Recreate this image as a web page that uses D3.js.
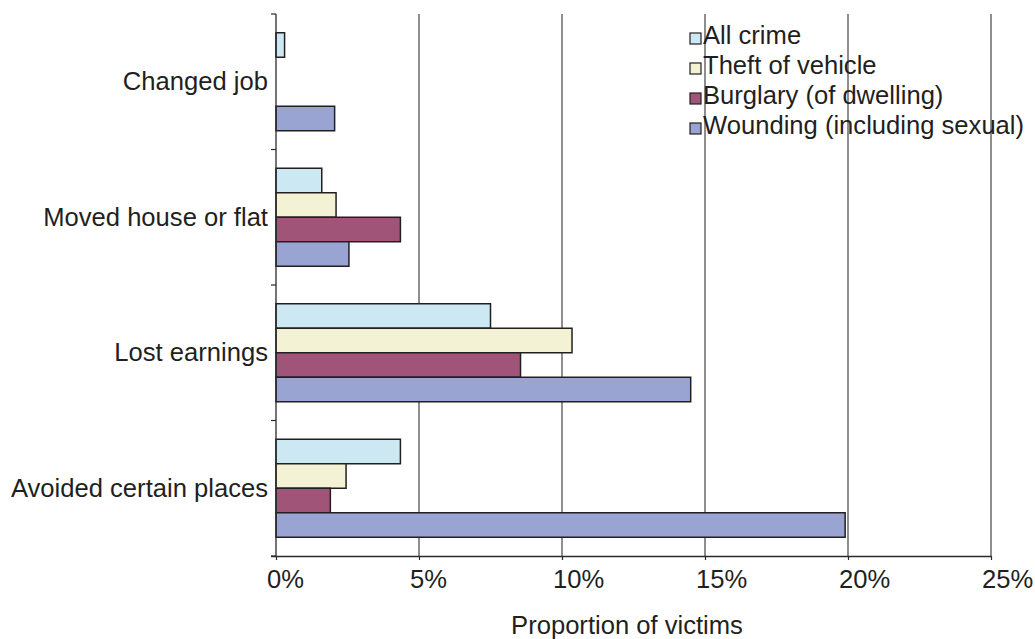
<!DOCTYPE html>
<html>
<head>
<meta charset="utf-8">
<script src="https://cdn.jsdelivr.net/npm/d3@7"></script>
<style>
  html, body { margin: 0; padding: 0; background: #fff; }
  svg { display: block; }
  text { font-family: "Liberation Sans", Arial, Helvetica, sans-serif; fill: #231f20; }
</style>
</head>
<body>
<script>
// ---- Data ----
const categories = ["Changed job", "Moved house or flat", "Lost earnings", "Avoided certain places"];
const seriesNames = ["All crime", "Theft of vehicle", "Burglary (of dwelling)", "Wounding (including sexual)"];
const allCrime = [0.3, 1.6, 7.5, 4.35];
const theftOfVehicle = [0, 2.1, 10.35, 2.45];
const burglary = [0, 4.35, 8.55, 1.9];
const wounding = [2.05, 2.55, 14.5, 19.9];
const xTicks = [0, 5, 10, 15, 20, 25];
const xTickLabels = ["0%", "5%", "10%", "15%", "20%", "25%"];
const colors = ["#cbe8f3", "#f3f2d4", "#a05578", "#99a4d2"];

const seriesValues = [allCrime, theftOfVehicle, burglary, wounding];

const W = 1035, H = 639;
const margin = { left: 276, right: 44, top: 14, bottom: 83 };
const FS = 25.6;

const svg = d3.select("body").append("svg").attr("width", W).attr("height", H);

const x = d3.scaleLinear().domain([0, 25]).range([margin.left, W - margin.right]);
const y0 = d3.scaleBand().domain(categories).range([margin.top, H - margin.bottom]).padding(0);
const y1 = d3.scaleBand().domain(seriesNames).range([0, y0.bandwidth()]).paddingInner(0).paddingOuter(0.765);

const plotTop = margin.top, plotBottom = H - margin.bottom;
const ink = "#2a2a2a";

// gridlines
svg.append("g").selectAll("line").data(xTicks.filter(d => d > 0)).join("line")
  .attr("x1", d => x(d)).attr("x2", d => x(d))
  .attr("y1", plotTop).attr("y2", plotBottom)
  .attr("stroke", "#444").attr("stroke-width", 1.2);

// bars
const rows = [];
categories.forEach((c, i) => {
  seriesNames.forEach((s, j) => {
    rows.push({ cat: c, ser: s, v: seriesValues[j][i], color: colors[j] });
  });
});
svg.append("g").selectAll("rect").data(rows.filter(d => d.v > 0)).join("rect")
  .attr("x", x(0))
  .attr("y", d => y0(d.cat) + y1(d.ser))
  .attr("width", d => x(d.v) - x(0))
  .attr("height", y1.bandwidth())
  .attr("fill", d => d.color)
  .attr("stroke", "#231f20")
  .attr("stroke-width", 1.5);

// x axis
const xAxis = d3.axisBottom(x).tickValues(xTicks).tickSize(4).tickFormat((d, i) => xTickLabels[i]);
const gx = svg.append("g").attr("transform", `translate(0,${plotBottom})`).call(xAxis);
gx.select(".domain").attr("stroke", ink).attr("stroke-width", 1.3).attr("d", `M${x(0) - 5},0.5H${x(25)}`);
gx.selectAll(".tick line").attr("stroke", ink).attr("stroke-width", 1.2);
gx.selectAll(".tick text")
  .attr("font-size", FS).attr("fill", "#231f20")
  .attr("text-anchor", "start").attr("dx", -9.5).attr("y", 0).attr("dy", 32);

// y axis (ticks at band boundaries)
svg.append("line").attr("x1", x(0)).attr("x2", x(0)).attr("y1", plotTop).attr("y2", plotBottom)
  .attr("stroke", ink).attr("stroke-width", 1.3);
const boundaries = categories.map(c => y0(c)).concat([plotBottom]);
svg.append("g").selectAll("line").data(boundaries).join("line")
  .attr("x1", x(0) - 5).attr("x2", x(0)).attr("y1", d => d).attr("y2", d => d)
  .attr("stroke", ink).attr("stroke-width", 1.2);

// category labels
svg.append("g").selectAll("text").data(categories).join("text")
  .attr("x", x(0) - 8)
  .attr("y", d => y0(d) + y0.bandwidth() / 2 + 8.5)
  .attr("text-anchor", "end")
  .attr("font-size", FS)
  .text(d => d);

// axis title
svg.append("text")
  .attr("x", 627).attr("y", 634)
  .attr("text-anchor", "middle").attr("font-size", FS)
  .text("Proportion of victims");

// legend
const lg = svg.append("g").attr("transform", "translate(690,0)");
seriesNames.forEach((s, j) => {
  const base = 44 + j * 30;
  lg.append("rect").attr("x", 0).attr("y", base - 11).attr("width", 11).attr("height", 11)
    .attr("fill", colors[j]).attr("stroke", "#231f20").attr("stroke-width", 1.2);
  lg.append("text").attr("x", 13).attr("y", base).attr("font-size", FS).text(s);
});
</script>
</body>
</html>
